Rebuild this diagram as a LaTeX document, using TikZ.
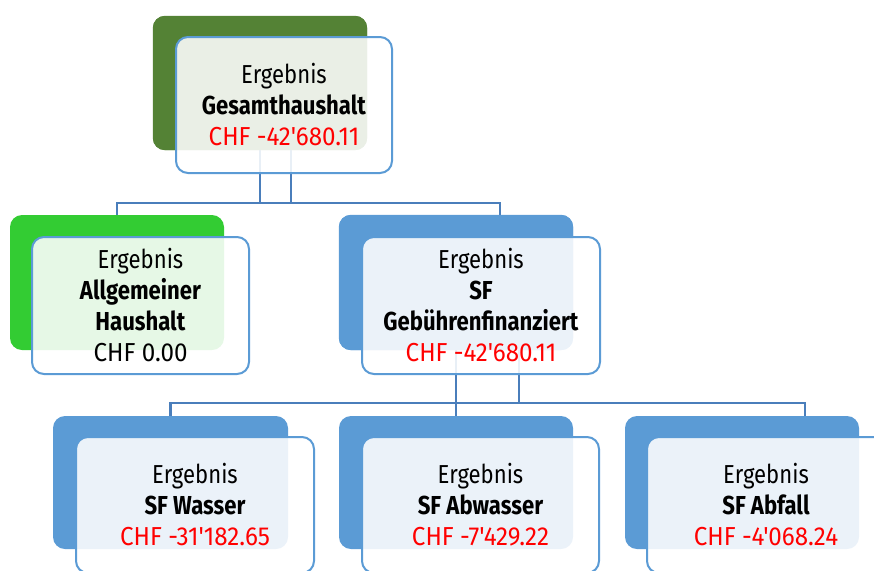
\documentclass[tikz,border=0pt]{standalone}
\usepackage{fontspec}
\newfontfamily\boxfont{Fira Sans}[FakeStretch=0.85]
\newfontfamily\numfont{Fira Sans}[FakeStretch=0.93]
\definecolor{darkgreen}{HTML}{548235}
\definecolor{brightgreen}{HTML}{33CC33}
\definecolor{backblue}{HTML}{5B9BD5}
\definecolor{frameblue}{HTML}{5B9BD5}
\definecolor{linkblue}{HTML}{4A7EBB}
\definecolor{chfred}{HTML}{FF0000}
\begin{document}
\begin{tikzpicture}[x=1pt,y=-1pt,
  backbox/.style={rectangle, rounded corners=12pt, draw=none, inner sep=0pt},
  frontbox/.style={rectangle, rounded corners=12pt, draw=frameblue, line width=2pt,
    fill=white, fill opacity=0.88, text opacity=1, inner sep=0pt, align=center,
    font=\boxfont\fontsize{26}{31}\selectfont},
  conn/.style={draw=linkblue, line width=2.6pt}]
\useasboundingbox (0,0) rectangle (874,570);
\clip (0,0) rectangle (874,570);
% connector anchor coordinates
\coordinate (a1) at (260,105);
\coordinate (a2) at (291,105);
\coordinate (h1) at (117,203);
\coordinate (h2) at (500,203);
\coordinate (c1) at (456,305);
\coordinate (c2) at (519,305);
\coordinate (g1) at (170,403);
\coordinate (g2) at (805,403);
% back boxes
\node[backbox, fill=darkgreen, minimum width=214pt, minimum height=134pt] (topb) at (260,83) {};
\node[backbox, fill=brightgreen, minimum width=214pt, minimum height=135pt] (leftb) at (117,282.5) {};
\node[backbox, fill=backblue, minimum width=234pt, minimum height=135pt] (midb) at (456,282.5) {};
\node[backbox, fill=backblue, minimum width=235pt, minimum height=133pt] (bota) at (170.5,482.5) {};
\node[backbox, fill=backblue, minimum width=234pt, minimum height=133pt] (botb) at (456,482.5) {};
\node[backbox, fill=backblue, minimum width=234pt, minimum height=133pt] (botc) at (742,482.5) {};
% connectors
\draw[conn] (a1) -- (a1 |- h1);
\draw[conn] (a2) -- (a2 |- h1);
\draw[conn] (leftb.north) |- (h2) -- (h2 |- midb.north);
\draw[conn] (c1) -- (c1 |- botb.north);
\draw[conn] (c2) -- (c2 |- g1);
\draw[conn] (bota.north) |- (g2) -- (g2 |- botc.north);
% back boxes again over the connector starts
\fill[darkgreen, rounded corners=12pt] (topb.north west) rectangle (topb.south east);
\fill[backblue, rounded corners=12pt] (midb.north west) rectangle (midb.south east);
% front boxes
\node[frontbox, minimum width=216pt, minimum height=136pt] (topf) at (284,105)
  {Ergebnis\\\textbf{Gesamthaushalt}\\\textcolor{chfred}{\numfont CHF -42'680.11}};
\node[frontbox, minimum width=217pt, minimum height=137pt] (leftf) at (140.5,305.5)
  {Ergebnis\\\textbf{Allgemeiner}\\\textbf{Haushalt}\\{\numfont CHF 0.00}};
\node[frontbox, minimum width=238pt, minimum height=137pt] (midf) at (481,305.5)
  {Ergebnis\\\textbf{SF}\\\textbf{Gebührenfinanziert}\\\textcolor{chfred}{\numfont CHF -42'680.11}};
\node[frontbox, minimum width=238pt, minimum height=136pt] (botaf) at (195,505)
  {Ergebnis\\\textbf{SF Wasser}\\\textcolor{chfred}{\numfont CHF -31'182.65}};
\node[frontbox, minimum width=237pt, minimum height=136pt] (botbf) at (480.5,505)
  {Ergebnis\\\textbf{SF Abwasser}\\\textcolor{chfred}{\numfont CHF -7'429.22}};
\node[frontbox, minimum width=238pt, minimum height=136pt] (botcf) at (766,505)
  {Ergebnis\\\textbf{SF Abfall}\\\textcolor{chfred}{\numfont CHF -4'068.24}};
\end{tikzpicture}
\end{document}
